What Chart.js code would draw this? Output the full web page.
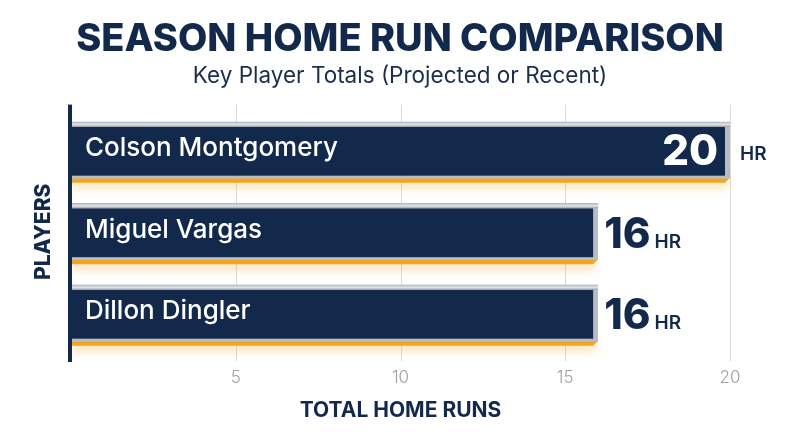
<!DOCTYPE html>
<html><head><meta charset="utf-8">
<script src="https://cdn.jsdelivr.net/npm/chart.js@4.4.1/dist/chart.umd.min.js"></script>
<style>html,body{margin:0;padding:0;background:#fff}#wrap{width:800px;height:447px;position:relative}</style>
</head><body><div id="wrap"><canvas id="c"></canvas></div>
<script>
const players = ['Colson Montgomery', 'Miguel Vargas', 'Dillon Dingler'];
const homeRuns = [20, 16, 16];
const xTicks = [5, 10, 15, 20];
const unitLabel = 'HR';
const titleText = 'SEASON HOME RUN COMPARISON';
const subtitleText = 'Key Player Totals (Projected or Recent)';
const xTitle = 'TOTAL HOME RUNS';
const yTitle = 'PLAYERS';

const NAVY = '#13294b';
const ORANGE = '#f2a51f';
const FONT = 'Inter, "Noto Sans", sans-serif';

const decor = {
  id: 'decor',
  beforeDatasetsDraw(chart) {
    const { ctx, chartArea: a, scales: { x } } = chart;
    ctx.save();
    ctx.strokeStyle = '#d9d9d9';
    ctx.lineWidth = 1;
    xTicks.forEach(v => {
      const px = Math.round(x.getPixelForValue(v)) + 0.5;
      ctx.beginPath(); ctx.moveTo(px, a.top - 5); ctx.lineTo(px, a.bottom + 7); ctx.stroke();
    });
    const meta = chart.getDatasetMeta(0);
    meta.data.forEach(bar => {
      const { x: bx, y: by, base, height } = bar.getProps(['x', 'y', 'base', 'height'], true);
      const bottom = by + height / 2;
      ctx.save();
      ctx.shadowColor = 'rgba(245,166,35,0.55)';
      ctx.shadowBlur = 10;
      ctx.shadowOffsetY = 4;
      ctx.fillStyle = ORANGE;
      ctx.beginPath();
      ctx.moveTo(base, bottom - 1);
      ctx.lineTo(bx, bottom - 1);
      ctx.lineTo(bx - 5, bottom + 4);
      ctx.lineTo(base, bottom + 4);
      ctx.closePath();
      ctx.fill();
      ctx.restore();
    });
    ctx.restore();
  },
  afterDatasetsDraw(chart) {
    const { ctx, chartArea: a, scales: { x } } = chart;
    const meta = chart.getDatasetMeta(0);
    ctx.save();
    // metallic highlight on top border
    meta.data.forEach(bar => {
      const { x: bx, y: by, base, height } = bar.getProps(['x', 'y', 'base', 'height'], true);
      const top = by - height / 2;
      const g = ctx.createLinearGradient(0, top, 0, top + 5);
      g.addColorStop(0, '#a9aeb5');
      g.addColorStop(0.5, '#e4e7ea');
      g.addColorStop(1, '#9ea3aa');
      ctx.fillStyle = g;
      ctx.fillRect(base, top, bx - base, 5);
    });
    // left axis line
    const x0 = x.getPixelForValue(0);
    ctx.fillStyle = NAVY;
    ctx.fillRect(x0 - 3, a.top - 5, 4, a.bottom - a.top + 13);
    meta.data.forEach((bar, i) => {
      const { x: bx, y: by, base } = bar.getProps(['x', 'y', 'base'], true);
      // name
      ctx.fillStyle = '#ffffff';
      ctx.font = '500 26px ' + FONT;
      ctx.textAlign = 'left';
      ctx.textBaseline = 'middle';
      ctx.fillText(players[i], base + 14, by - 2);
      // value
      const valFont = '800 42px ' + FONT;
      const unitFont = '600 19px ' + FONT;
      ctx.font = valFont;
      const w = ctx.measureText(String(homeRuns[i])).width;
      ctx.font = unitFont;
      const h = ctx.measureText(unitLabel).width;
      ctx.textBaseline = 'alphabetic';
      if (bx + 6 + w + 4 + h > chart.width - 8) {
        ctx.font = valFont;
        ctx.fillStyle = '#ffffff';
        ctx.textAlign = 'right';
        ctx.fillText(String(homeRuns[i]), bx - 12, by + 15);
        ctx.font = unitFont;
        ctx.fillStyle = NAVY;
        ctx.textAlign = 'left';
        ctx.fillText(unitLabel, bx + 10, by + 10);
      } else {
        ctx.font = valFont;
        ctx.fillStyle = NAVY;
        ctx.textAlign = 'left';
        ctx.fillText(String(homeRuns[i]), bx + 6, by + 16);
        ctx.font = unitFont;
        ctx.fillText(unitLabel, bx + 6 + w + 4, by + 16);
      }
    });
    ctx.restore();
  }
};

new Chart(document.getElementById('c'), {
  type: 'bar',
  data: {
    labels: players,
    datasets: [{
      data: homeRuns,
      backgroundColor: NAVY,
      borderColor: '#b9bdc3',
      borderWidth: { top: 5, right: 5, bottom: 3, left: 0 },
      borderSkipped: false,
      barPercentage: 0.7,
      categoryPercentage: 1
    }]
  },
  options: {
    indexAxis: 'y',
    responsive: true,
    maintainAspectRatio: false,
    animation: false,
    layout: { padding: 0 },
    plugins: {
      legend: { display: false },
      tooltip: { enabled: false },
      title: {
        display: true, text: titleText, color: NAVY,
        font: { family: FONT, size: 38, weight: '800' },
        padding: { top: 17, bottom: 0 }
      },
      subtitle: {
        display: true, text: subtitleText, color: '#1c2e4a',
        font: { family: FONT, size: 22.5, weight: '400' },
        padding: { top: 0, bottom: 20 }
      }
    },
    scales: {
      x: {
        min: 0, max: 20,
        afterBuildTicks(scale) { scale.ticks = [0].concat(xTicks).map(v => ({ value: v })); },
        afterFit(scale) { scale.height = 93; },
        grid: { display: false, drawTicks: false },
        border: { display: false },
        ticks: {
          padding: 14, color: '#a0a0a0',
          font: { family: FONT, size: 17, weight: '300' },
          callback: v => (v === 0 ? '' : v)
        },
        title: {
          display: true, text: xTitle, color: NAVY,
          font: { family: FONT, size: 21, weight: '700' },
          padding: { top: 0, bottom: 24 }
        }
      },
      y: {
        afterFit(scale) { scale.width = 71; },
        grid: { display: false, drawTicks: false },
        border: { display: false },
        ticks: { display: false },
        title: {
          display: true, text: yTitle, color: NAVY,
          font: { family: FONT, size: 21, weight: '800' },
          padding: { top: 31, bottom: 0 }
        }
      },
      yRight: {
        type: 'category',
        position: 'right',
        afterFit(scale) { scale.width = 70; },
        grid: { display: false, drawTicks: false },
        border: { display: false },
        ticks: { display: false }
      }
    }
  },
  plugins: [decor]
});
</script>
</body></html>
